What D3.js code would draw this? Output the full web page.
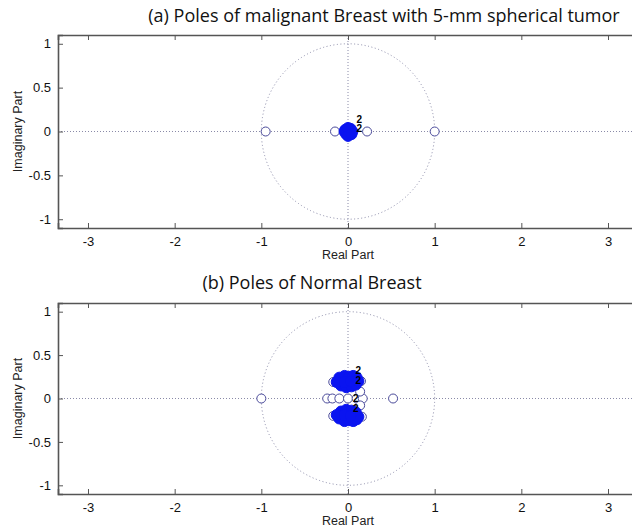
<!DOCTYPE html>
<html>
<head>
<meta charset="utf-8">
<script src="https://cdn.jsdelivr.net/npm/d3@7"></script>
<style>
  body { margin: 0; background: #fff; }
  svg { display: block; }
</style>
</head>
<body>
<script>
// pole-zero data
var xTicks = [-3, -2, -1, 0, 1, 2, 3];
var yTicks = [-1, -0.5, 0, 0.5, 1];
var xTickLabels = ["-3", "-2", "-1", "0", "1", "2", "3"];
var yTickLabels = ["-1", "-0.5", "0", "0.5", "1"];

// (a) malignant
var zerosA = [[-0.95, 0], [1.0, 0], [-0.15, 0], [0.22, 0]];
var polesA = [[0, 0], [0.03, 0.03], [-0.03, 0.02], [0.02, -0.03], [-0.02, -0.03],
              [0.05, 0], [-0.04, 0], [0, 0.04], [0, -0.05], [0.04, -0.03]];
var multA = [[0.13, 0.14, "2"], [0.13, 0.03, "2"]];

// (b) normal
var zerosB = [[-1.0, 0], [0.52, 0], [-0.24, 0], [-0.18, 0], [-0.1, 0], [0.0, 0],
              [0.1, 0], [0.17, 0], [-0.17, 0.19], [-0.17, -0.2],
              [0.14, 0.08], [0.14, -0.08], [0.15, 0.2], [0.16, -0.21]];
var polesB = [[-0.1, 0.24], [-0.04, 0.26], [0.01, 0.25], [0.06, 0.26], [0.1, 0.24],
              [-0.08, 0.15], [-0.02, 0.13], [0.04, 0.14], [0.09, 0.16], [-0.13, 0.19], [0.12, 0.2],
              [-0.04, 0.19], [0.03, 0.2],
              [-0.1, -0.23], [-0.04, -0.26], [0.01, -0.25], [0.06, -0.26], [0.1, -0.24],
              [-0.08, -0.15], [-0.02, -0.13], [0.04, -0.14], [0.09, -0.16], [-0.13, -0.19], [0.12, -0.21],
              [-0.04, -0.19], [0.03, -0.2]];
var multB = [[0.12, 0.32, "2"], [0.12, 0.21, "2"], [0.09, 0.0, "2"], [0.09, -0.11, "2"]];

var svg = d3.select("body").append("svg")
  .attr("width", 632)
  .attr("height", 529);

var xlim = [-3.346, 3.346];
var ylim = [-1.1, 1.1];

function drawPanel(box, title, titleX, titleY, zeros, poles, mult) {
  var x = d3.scaleLinear().domain(xlim).range([box.left, box.right]);
  var y = d3.scaleLinear().domain(ylim).range([box.bottom, box.top]);

  var g = svg.append("g");

  // dotted axes + unit circle
  var dot = "#8a8aa8";
  g.append("line")
    .attr("x1", x(xlim[0])).attr("x2", x(xlim[1]))
    .attr("y1", y(0)).attr("y2", y(0))
    .attr("stroke", dot).attr("stroke-width", 1).attr("stroke-dasharray", "1,2");
  g.append("line")
    .attr("x1", x(0)).attr("x2", x(0))
    .attr("y1", y(ylim[0])).attr("y2", y(ylim[1]))
    .attr("stroke", dot).attr("stroke-width", 1).attr("stroke-dasharray", "1,2");
  g.append("ellipse")
    .attr("cx", x(0)).attr("cy", y(0))
    .attr("rx", x(1) - x(0)).attr("ry", y(0) - y(1))
    .attr("fill", "none")
    .attr("stroke", dot).attr("stroke-width", 1).attr("stroke-dasharray", "1,2.5");

  // frame with inward ticks on all sides
  var axisCol = "#555";
  var bottom = g.append("g").attr("transform", `translate(0,${box.bottom})`)
    .call(d3.axisBottom(x).tickValues(xTicks).tickSize(-5).tickPadding(9)
      .tickFormat((d, i) => xTickLabels[i]));
  var top = g.append("g").attr("transform", `translate(0,${box.top})`)
    .call(d3.axisTop(x).tickValues(xTicks).tickSize(-5).tickFormat(""));
  var left = g.append("g").attr("transform", `translate(${box.left},0)`)
    .call(d3.axisLeft(y).tickValues(yTicks).tickSize(-5).tickPadding(7)
      .tickFormat((d, i) => yTickLabels[i]));
  var right = g.append("g").attr("transform", `translate(${box.right},0)`)
    .call(d3.axisRight(y).tickValues(yTicks).tickSize(-5).tickFormat(""));
  [bottom, top, left, right].forEach(function(a) {
    a.select(".domain").attr("stroke", axisCol).attr("stroke-width", 1.6);
    a.selectAll(".tick line").attr("stroke", axisCol);
    a.selectAll("text")
      .attr("fill", "#111")
      .style("font-family", "'Liberation Sans', Arial, sans-serif")
      .style("font-size", "13px");
  });

  // axis labels
  g.append("text")
    .attr("x", x(0)).attr("y", box.bottom + 31)
    .attr("text-anchor", "middle")
    .style("font-family", "'Liberation Sans', Arial, sans-serif")
    .style("font-size", "12.5px")
    .attr("fill", "#222")
    .text("Real Part");
  g.append("text")
    .attr("transform", `translate(22,${(box.top + box.bottom) / 2}) rotate(-90)`)
    .attr("text-anchor", "middle")
    .style("font-family", "'Liberation Sans', Arial, sans-serif")
    .style("font-size", "12.5px")
    .attr("fill", "#222")
    .text("Imaginary Part");

  // zeros (open) and poles (filled)
  g.selectAll(".zero").data(zeros).enter().append("circle")
    .attr("class", "zero")
    .attr("cx", d => x(d[0])).attr("cy", d => y(d[1]))
    .attr("r", 4.5)
    .attr("fill", "#fff")
    .attr("stroke", "#4a4a9a").attr("stroke-width", 1);
  g.selectAll(".pole").data(poles).enter().append("circle")
    .attr("class", "pole")
    .attr("cx", d => x(d[0])).attr("cy", d => y(d[1]))
    .attr("r", 5.5)
    .attr("fill", "#0a14f0")
    .attr("stroke", "#0a14f0");

  // multiplicity labels
  g.selectAll(".mult").data(mult).enter().append("text")
    .attr("x", d => x(d[0])).attr("y", d => y(d[1]))
    .attr("text-anchor", "middle").attr("dy", "0.35em")
    .style("font-family", "'Liberation Sans', Arial, sans-serif")
    .style("font-size", "10px").style("font-weight", "bold")
    .text(d => d[2]);

  // title
  svg.append("text")
    .attr("x", titleX).attr("y", titleY)
    .attr("text-anchor", "middle")
    .style("font-family", "'Open Sans', sans-serif")
    .style("font-size", "18px")
    .attr("fill", "#111")
    .text(title);
}

drawPanel({left: 58, right: 638, top: 35, bottom: 228},
  "(a) Poles of malignant Breast with 5-mm spherical tumor", 384, 22, zerosA, polesA, multA);
drawPanel({left: 58, right: 638, top: 303, bottom: 494},
  "(b) Poles of Normal Breast", 312, 289, zerosB, polesB, multB);
</script>
</body>
</html>
